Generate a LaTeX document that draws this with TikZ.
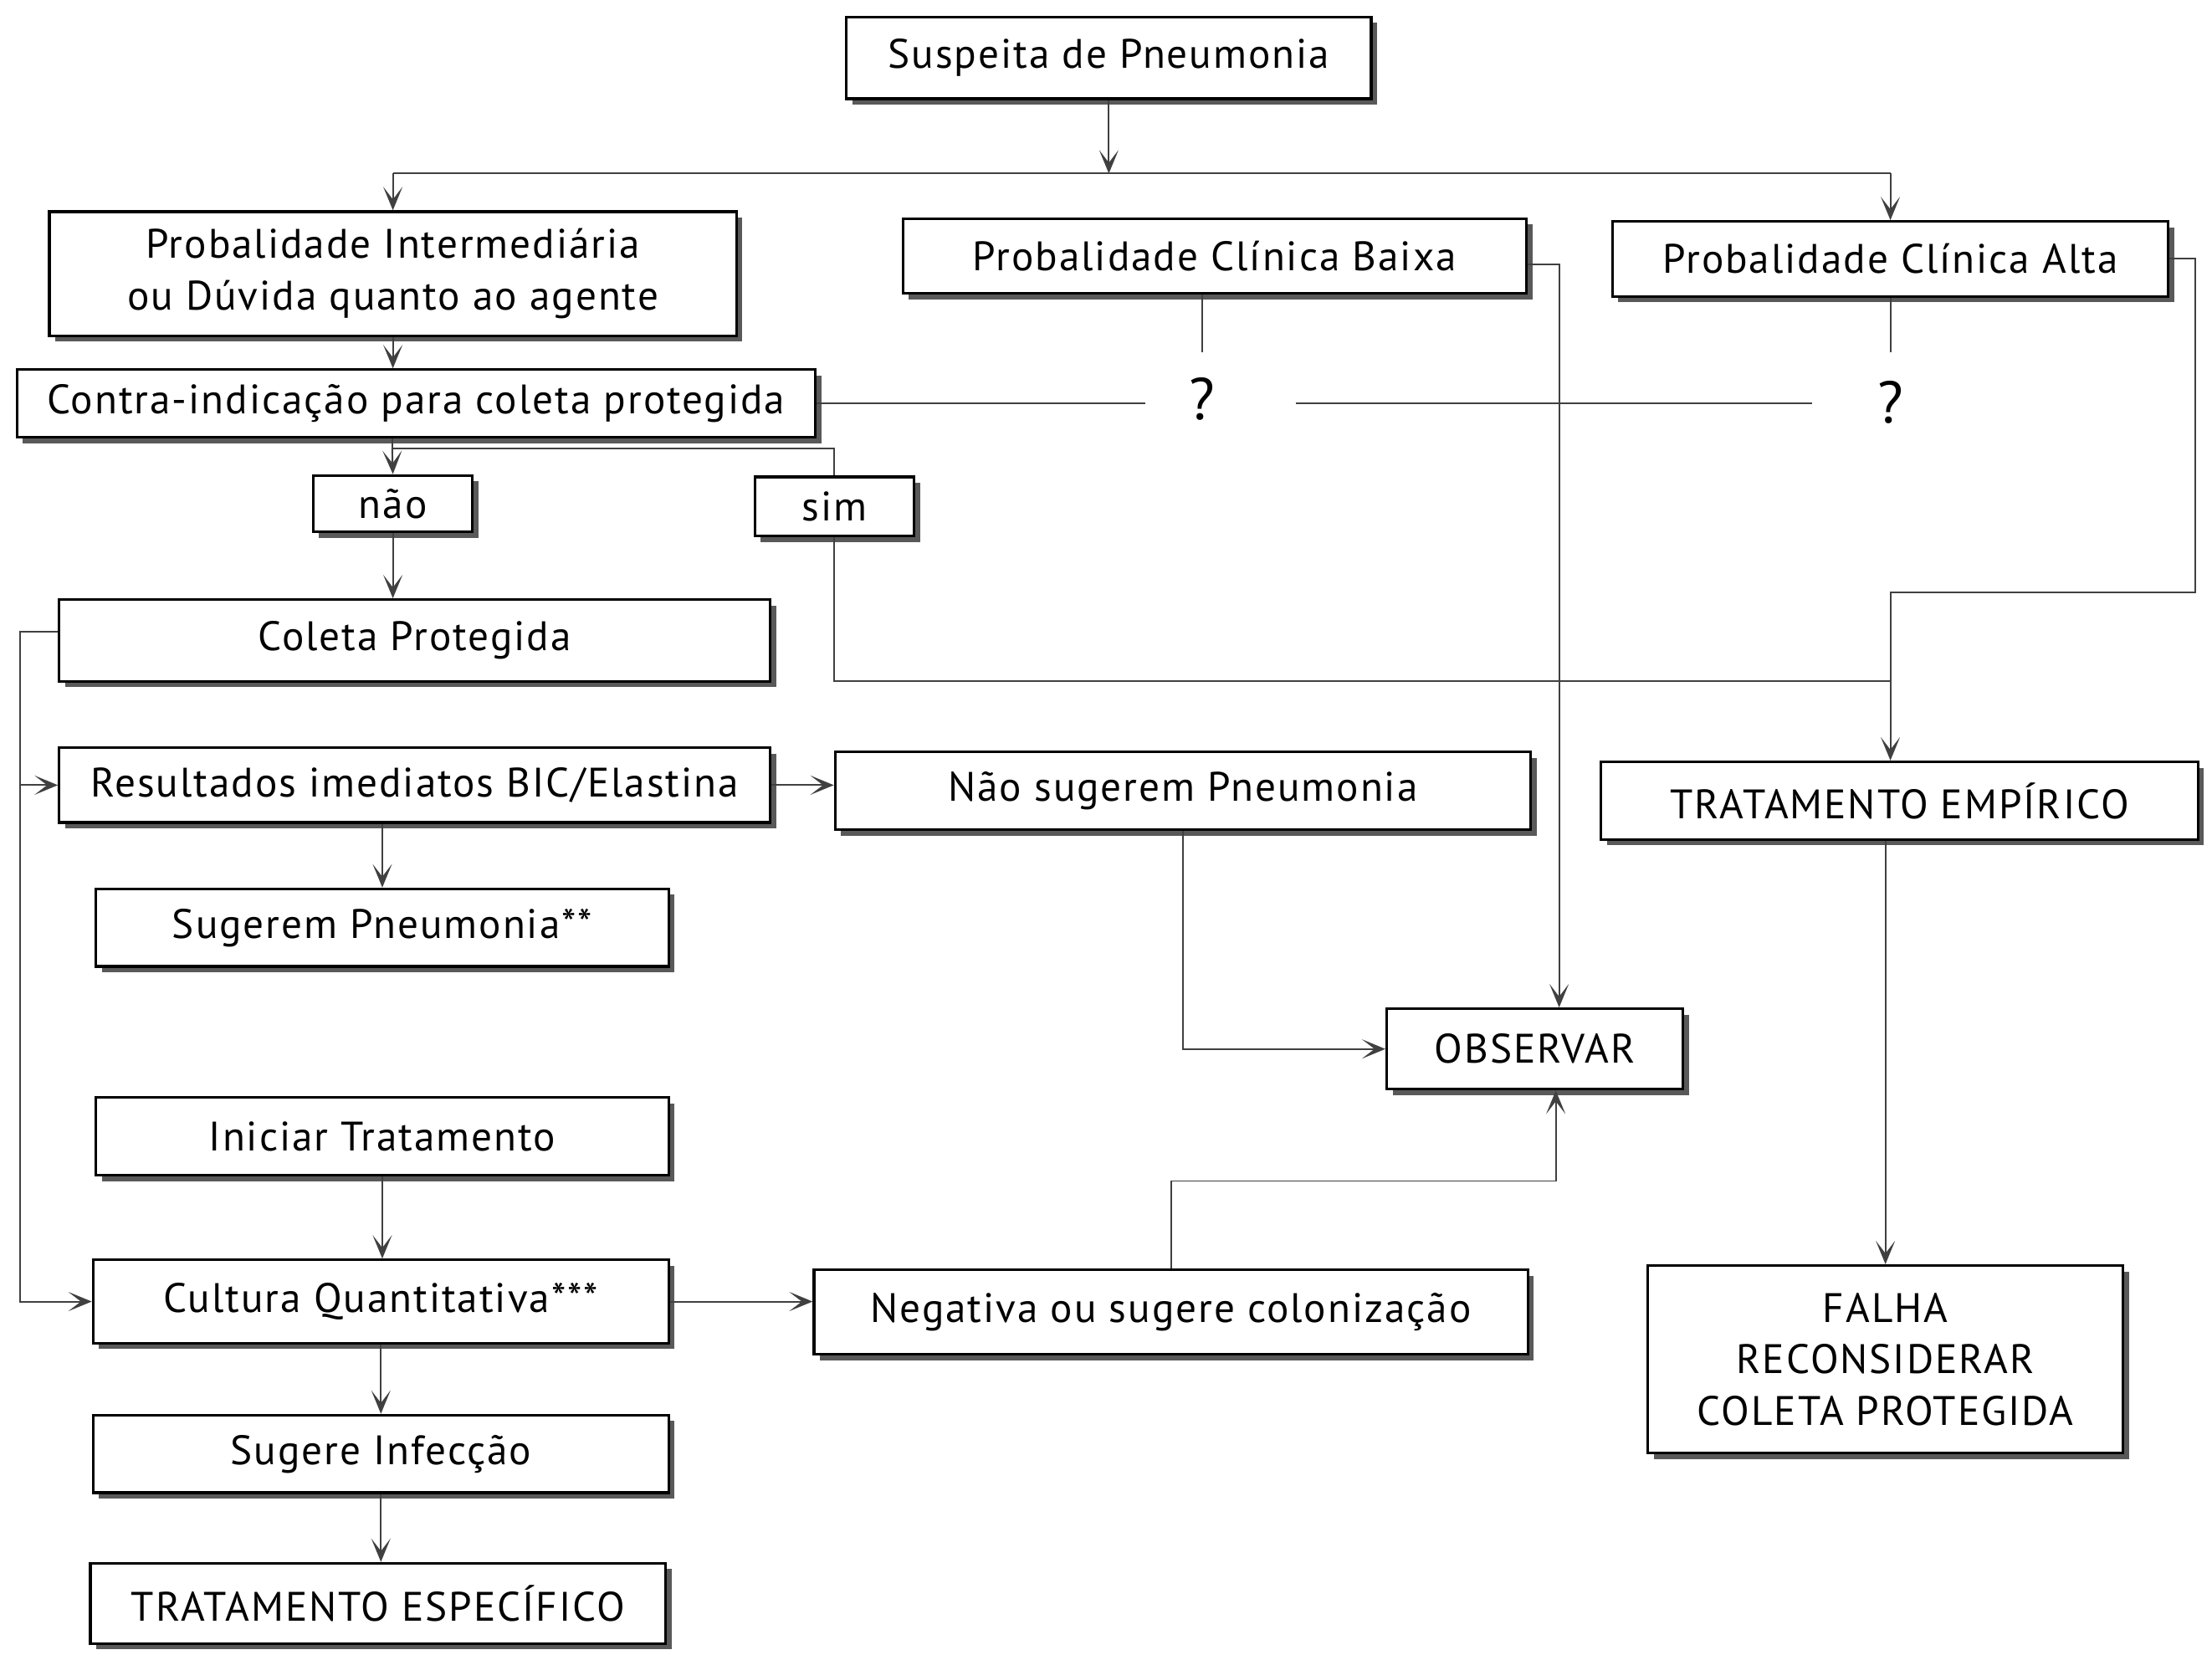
\documentclass[tikz,border=0pt]{standalone}
\usepackage{fontspec}
\setmainfont{PT Sans}[LetterSpace=4]
\usetikzlibrary{arrows.meta,shadows}
\definecolor{inkline}{HTML}{404040}
\tikzset{
  card/.style   = {draw=black, line width=0.9pt, fill=white, align=center, inner sep=0pt,
                   font=\fontsize{14}{17.5}\selectfont,
                   drop shadow={shadow xshift=0.7mm, shadow yshift=-0.7mm, fill=black!65, opacity=1}},
  sz/.style 2 args = {minimum width=#1*0.1686mm, minimum height=#2*0.1686mm},
  link/.style   = {draw=inkline, line width=0.55pt},
  flow/.style   = {link, -{Stealth[length=2.8mm,width=2.3mm,inset=1.5mm]}},
  qmark/.style  = {inner sep=0pt, font=\fontsize{20}{24}\selectfont},
}
\begin{document}
\begin{tikzpicture}[x=0.1686mm, y=-0.1686mm]
  \useasboundingbox (0,0) rectangle (1568,1173);
  \node[card,sz={372}{58}] (sus) at (786,41) {Suspeita de Pneumonia};
  \node[card,sz={487}{88}] (interm) at (278.5,194) {Probalidade Intermediária\\ou Dúvida quanto ao agente};
  \node[card,sz={442}{53}] (baixa) at (861,181.5) {Probalidade Clínica Baixa};
  \node[card,sz={394}{53}] (alta) at (1340,183.5) {Probalidade Clínica Alta};
  \node[card,sz={566}{48}] (contra) at (295,286) {Contra-indicação para coleta protegida};
  \node[qmark,sz={80}{66}] (q1) at (852,283) {?};
  \node[qmark,sz={110}{70}] (q2) at (1340,285) {?};
  \node[card,sz={113}{40}] (nao) at (278.5,357) {não};
  \node[card,sz={113}{42}] (sim) at (591.5,359) {sim};
  \node[card,sz={504}{58}] (coleta) at (294,454) {Coleta Protegida};
  \node[card,sz={504}{53}] (result) at (294,556.5) {Resultados imediatos BIC/Elastina};
  \node[card,sz={493}{55}] (naosug) at (838.5,560.5) {Não sugerem Pneumonia};
  \node[card,sz={423}{55}] (empirico) at (1346.5,567.5) {TRATAMENTO EMPÍRICO};
  \node[card,sz={406}{55}] (sugpn) at (271,657.5) {Sugerem Pneumonia**};
  \node[card,sz={210}{57}] (observar) at (1088,743.5) {OBSERVAR};
  \node[card,sz={406}{55}] (iniciar) at (271,805.5) {Iniciar Tratamento};
  \node[card,sz={408}{59}] (cultura) at (270,922.5) {Cultura Quantitativa***};
  \node[card,sz={506}{60}] (negativa) at (830,930) {Negativa ou sugere colonização};
  \node[card,sz={337}{133}] (falha) at (1336.5,963.5) {FALHA\\RECONSIDERAR\\COLETA PROTEGIDA};
  \node[card,sz={408}{55}] (sugere) at (270,1030.5) {Sugere Infecção};
  \node[card,sz={408}{57}] (especifico) at (268,1136.5) {TRATAMENTO ESPECÍFICO};

  \coordinate (split) at (786,123);
  \coordinate (cs) at (278,318);
  \coordinate (rail) at (14,500);
  \coordinate (altaturn) at (1556,420);
  \coordinate (join) at (1340,483);

  \draw[flow] (sus) -- (split);
  \draw[link] (split -| interm) -- (split -| alta);
  \draw[flow] (split -| interm) -- (interm.north);
  \draw[flow] (split -| alta) -- (alta.north);
  \draw[flow] (interm.south) -- (interm.south |- contra.north);
  \draw[link] (contra.east) -- (contra.east -| q1.west);
  \draw[link] ([xshift=4.4mm]q1.east |- contra.east) -- (q2.west |- contra.east);
  \draw[link] (baixa.south -| q1) -- (q1.north);
  \draw[link] (alta.south) -- (q2.north);
  \draw[flow] ([yshift=-1mm]baixa.east) -| ([xshift=2.9mm]observar.north);
  \draw[link] (alta.east) -| (altaturn) -| (join);
  \draw[flow] (join) -- (join |- empirico.north);
  \draw[link] (cs |- contra.south) -- (cs) -| (sim.north);
  \draw[flow] (cs) -- (nao.north);
  \draw[link] (sim.south) |- (join);
  \draw[flow] (nao.south) -- (nao.south |- coleta.north);
  \draw[flow] ([yshift=1.1mm]coleta.west) -| (rail) |- (cultura.west);
  \draw[flow] (rail |- result.west) -- (result.west);
  \draw[flow] (result.east) -- (result.east -| naosug.west);
  \draw[flow] (sugpn.north |- result.south) -- (sugpn.north);
  \draw[flow] (naosug.south) |- (observar.west);
  \draw[flow] (iniciar.south) -- (iniciar.south |- cultura.north);
  \draw[flow] (cultura.east) -- (cultura.east -| negativa.west);
  \draw[flow] (negativa.north) -- ++(0,-62) -| ([xshift=2.5mm]observar.south);
  \draw[flow] (cultura.south) -- (cultura.south |- sugere.north);
  \draw[flow] (sugere.south) -- (sugere.south |- especifico.north);
  \draw[flow] (falha.north |- empirico.south) -- (falha.north);
\end{tikzpicture}
\end{document}
